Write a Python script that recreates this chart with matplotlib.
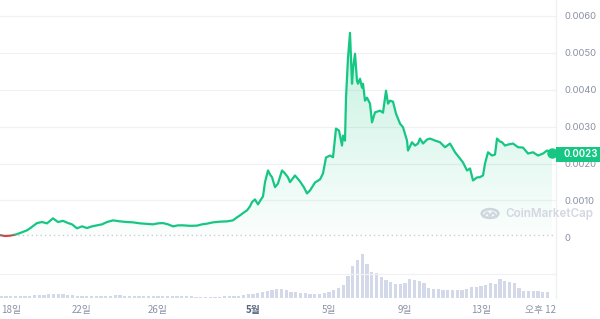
import numpy as np
import matplotlib
matplotlib.use("Agg")
import matplotlib.pyplot as plt
from matplotlib.patches import Rectangle, Circle
from matplotlib.transforms import ScaledTranslation, blended_transform_factory

# ---------------- data ----------------
# time in days since 17 Apr 00:00
price_day = [0.684, 0.947, 1.211, 1.5, 1.737, 2.105, 2.263, 2.632, 2.895, 3.158, 3.474, 3.737, 4.0,
             4.263, 4.474, 4.737, 5.0, 5.263, 5.526, 5.789, 6.053, 6.316, 6.632, 7.0, 7.368, 7.684,
             8.053, 8.421, 8.737, 9.0, 9.263, 9.526, 9.789, 10.053, 10.316, 10.684, 11.053, 11.316,
             11.579, 11.895, 12.263, 12.632, 12.947, 13.158, 13.316, 13.526, 13.684, 13.842, 13.947,
             14.105, 14.263, 14.421, 14.526, 14.632, 14.789, 14.895, 15.0, 15.158, 15.316, 15.526,
             15.684, 15.842, 15.947, 16.211, 16.474, 16.684, 16.842, 17.0, 17.263, 17.526, 17.684,
             17.842, 18.053, 18.211, 18.368, 18.526, 18.684, 18.737, 18.842, 18.895, 19.0, 19.105,
             19.211, 19.263, 19.368, 19.474, 19.526, 19.632, 19.737, 19.789, 19.895, 20.0, 20.158,
             20.263, 20.421, 20.684, 20.842, 21.0, 21.105, 21.211, 21.368, 21.526, 21.737, 21.895,
             22.105, 22.158, 22.368, 22.526, 22.684, 22.789, 22.947, 23.158, 23.316, 23.579, 23.842,
             24.105, 24.368, 24.632, 24.895, 25.053, 25.263, 25.421, 25.579, 25.789, 25.947, 26.105,
             26.211, 26.368, 26.579, 26.737, 26.842, 27.0, 27.105, 27.263, 27.421, 27.684, 27.947,
             28.211, 28.474, 28.737, 29.0, 29.263, 29.474, 29.737]

# price in thousandths of a dollar (x 0.001)
price_milli = [0.062, 0.035, 0.045, 0.075, 0.116, 0.189, 0.243, 0.386, 0.414, 0.378, 0.514, 0.414, 0.446,
               0.386, 0.351, 0.243, 0.297, 0.251, 0.297, 0.324, 0.351, 0.414, 0.459, 0.432, 0.414, 0.405,
               0.378, 0.365, 0.351, 0.378, 0.386, 0.351, 0.297, 0.324, 0.324, 0.311, 0.316, 0.351,
               0.370, 0.405, 0.424, 0.432, 0.459, 0.541, 0.595, 0.676, 0.730, 0.838, 0.954,
               1.027, 0.892, 1.027, 1.108, 1.495, 1.811, 1.703, 1.630, 1.359, 1.459, 1.811,
               1.730, 1.622, 1.495, 1.676, 1.514, 1.351, 1.189, 1.270, 1.486, 1.568, 1.730,
               2.162, 2.216, 2.170, 2.946, 2.892, 2.486, 2.757, 2.622, 3.784, 4.865, 5.541,
               4.162, 4.568, 4.973, 4.243, 4.162, 4.297, 4.054, 4.162, 3.703, 3.784, 3.622,
               3.116, 3.386, 3.432, 3.378, 3.973, 3.622, 3.703, 3.676, 3.351, 3.081, 2.981,
               2.622, 2.351, 2.576, 2.486, 2.541, 2.676, 2.541, 2.649, 2.676, 2.622, 2.576,
               2.441, 2.541, 2.305, 2.135, 2.027, 1.811, 1.865, 1.541, 1.622, 1.630, 1.676,
               2.000, 2.305, 2.216, 2.243, 2.676, 2.595, 2.576, 2.486, 2.514, 2.541, 2.441,
               2.432, 2.270, 2.305, 2.216, 2.270, 2.351, 2.297]

open_milli = 0.060

# volume (relative units), one bar per 6 hours
vol_day0 = 0.75
volume = [2, 2, 2, 2, 2, 2, 2, 2.5, 3.2, 3.3, 3.5, 4, 3.8, 3.5, 3.2, 2.5, 2.3, 2.3, 2.3, 2.3,
          2.2, 2, 1.8, 2.4, 2.8, 2.5, 2, 1.8, 1.7, 1.7, 1.7, 1.7, 1.7, 1.7, 1.7, 1.7, 1.7, 1.7,
          1.7, 1.6, 1.6, 1.3, 1.3, 1.4, 1.4, 1.4, 1.4, 1.5, 1.6, 1.8, 2.2, 3, 3.8, 4.3, 5, 6.2,
          7.3, 8, 8.5, 8.8, 7.5, 6.3, 5.6, 5.2, 4.5, 4.3, 4.3, 4.3, 5.2, 6.3, 7.7, 10, 12.5, 22,
          32, 38, 44, 34, 26, 24.5, 21, 18, 15.5, 14, 14.3, 15, 19, 18, 16.5, 15, 10, 9, 8.5, 8,
          7.8, 7.7, 7.7, 8.3, 9, 10.5, 11, 12.3, 13, 15, 14, 19, 17, 15.7, 15, 10, 7.3, 7, 6.8,
          6.5, 6.3, 6]

tick_days = [1, 5, 9, 14, 18, 22, 26, 29.5]
tick_labels = ["18일", "22일", "26일", "5월", "5일", "9일", "13일", "오후 12"]
ytick_vals = [0, 0.001, 0.002, 0.003, 0.004, 0.005, 0.006]
ytick_labels = ["0", "0.0010", "0.0020", "0.0030", "0.0040", "0.0050", "0.0060"]
last_label = "0.0023"

# ---------------- style ----------------
GREEN = "#16c784"
RED = "#ea3943"
GRID = "#f0f1f4"
TXT = "#8a91a5"

plt.rcParams['font.family'] = ['Inter', 'Noto Sans CJK KR', 'DejaVu Sans']

day = np.array(price_day)
price = np.array(price_milli) * 1e-3
open_p = open_milli * 1e-3
vol = np.array(volume)
vol_days = vol_day0 + 0.25 * np.arange(len(vol))

fig = plt.figure(figsize=(6, 3.19), dpi=100)
W, H = 600, 319
pos = [0, 21 / H, 556 / W, 298 / H]

axv = fig.add_axes(pos, zorder=1)
ax = fig.add_axes(pos, zorder=2)
ax.patch.set_alpha(0)

xlim = (0.684, 29.947)
ylim = (-0.001645, 0.006431)

# volume bars
axv.bar(vol_days, vol, width=0.25 * 0.68, color="#d3d9e8", linewidth=0)
axv.set_xlim(*xlim)
axv.set_ylim(0, vol.max() * 298 / 44.3)
axv.axis("off")

# grid lines
for v in [-0.001] + ytick_vals[1:]:
    ax.axhline(v, color=GRID, lw=0.9, zorder=0)
ax.axhline(open_p, color="#c8ccd6", lw=1.0, ls=(0, (1, 2.2)), zorder=1)

# gradient fill
poly = ax.fill_between(day, price, open_p, color="none", lw=0)
path = poly.get_paths()[0]
ny = 256
alpha = np.linspace(0.02, 0.25, ny).reshape(-1, 1)
img = np.zeros((ny, 2, 4))
img[..., 0] = 22 / 255
img[..., 1] = 199 / 255
img[..., 2] = 132 / 255
img[..., 3] = np.repeat(alpha, 2, axis=1)
im = ax.imshow(img, extent=[day.min(), day.max(), open_p, price.max()], origin="lower",
               aspect="auto", zorder=2, interpolation="bilinear")
im.set_clip_path(path, transform=ax.transData)

# price line (green above open, red below)
lg, = ax.plot(day, price, color=GREEN, lw=1.6, zorder=3, solid_joinstyle="round")
lr, = ax.plot(day, price, color=RED, lw=1.6, zorder=3, solid_joinstyle="round")
top_rect = Rectangle((xlim[0], open_p), xlim[1] - xlim[0], 1, transform=ax.transData)
bot_rect = Rectangle((xlim[0], -1), xlim[1] - xlim[0], 1 + open_p, transform=ax.transData)
lg.set_clip_path(top_rect)
lr.set_clip_path(bot_rect)

ax.set_xlim(*xlim)
ax.set_ylim(*ylim)

# spines
for s in ["top", "left", "bottom"]:
    ax.spines[s].set_visible(False)
ax.spines["right"].set_color("#eef0f3")
ax.spines["right"].set_linewidth(1.0)

# y ticks on right
ax.yaxis.tick_right()
ax.set_yticks(ytick_vals)
ax.set_yticklabels(ytick_labels)
ax.tick_params(axis="y", length=0, pad=6, labelsize=6.8, labelcolor=TXT)

# x ticks
ax.set_xticks(tick_days)
ax.set_xticklabels(tick_labels)
ax.tick_params(axis="x", length=0, pad=5, labelsize=7, labelcolor=TXT)
for lbl in ax.get_xticklabels():
    lbl.set_family(['Noto Sans CJK KR', 'DejaVu Sans'])
    if lbl.get_text() == "5월":
        lbl.set_fontweight("bold")
        lbl.set_color("#58667e")
xl = ax.get_xticklabels()
xl[0].set_transform(xl[0].get_transform() + ScaledTranslation(5 / 100, 0, fig.dpi_scale_trans))
xl[-1].set_transform(xl[-1].get_transform() + ScaledTranslation(-7 / 100, 0, fig.dpi_scale_trans))

# last price badge
btr = blended_transform_factory(ax.transAxes, ax.transData)
bh = 15 / 36.9 * 1e-3
badge = Rectangle((1.0, price[-1] - bh / 2 - 0.04e-3), 44 / 556, bh, transform=btr,
                  color=GREEN, clip_on=False, zorder=5, lw=0)
ax.add_patch(badge)
ax.text(1.0 + 8 / 556, price[-1] - 0.04e-3, last_label, transform=btr, ha="left", va="center",
        color="white", fontsize=7, fontweight="semibold", zorder=6, clip_on=False)

# end dot (above badge)
ax.plot([day[-1]], [price[-1]], "o", color=GREEN, ms=6.5, zorder=7, clip_on=False)

# watermark
wm = "#d3d7e1"
fig.patches.append(Circle((490 / W, 1 - 213.5 / H), 8.3 / W, transform=fig.transFigure,
                          fill=False, ec=wm, lw=1.8))
t = np.linspace(0, 1, 30)
mx = 484 + 12 * t
my = 217 - 4.5 * np.abs(np.sin(np.pi * 2 * t))
fig.lines.append(plt.Line2D(mx / W, 1 - my / H, transform=fig.transFigure, color=wm, lw=1.6))
fig.text(505 / W, 1 - 214 / H, "CoinMarketCap", color=wm, fontsize=8.4, fontweight="semibold",
         ha="left", va="center", family=['Inter', 'DejaVu Sans'])

fig.savefig("out.png", dpi=100)
